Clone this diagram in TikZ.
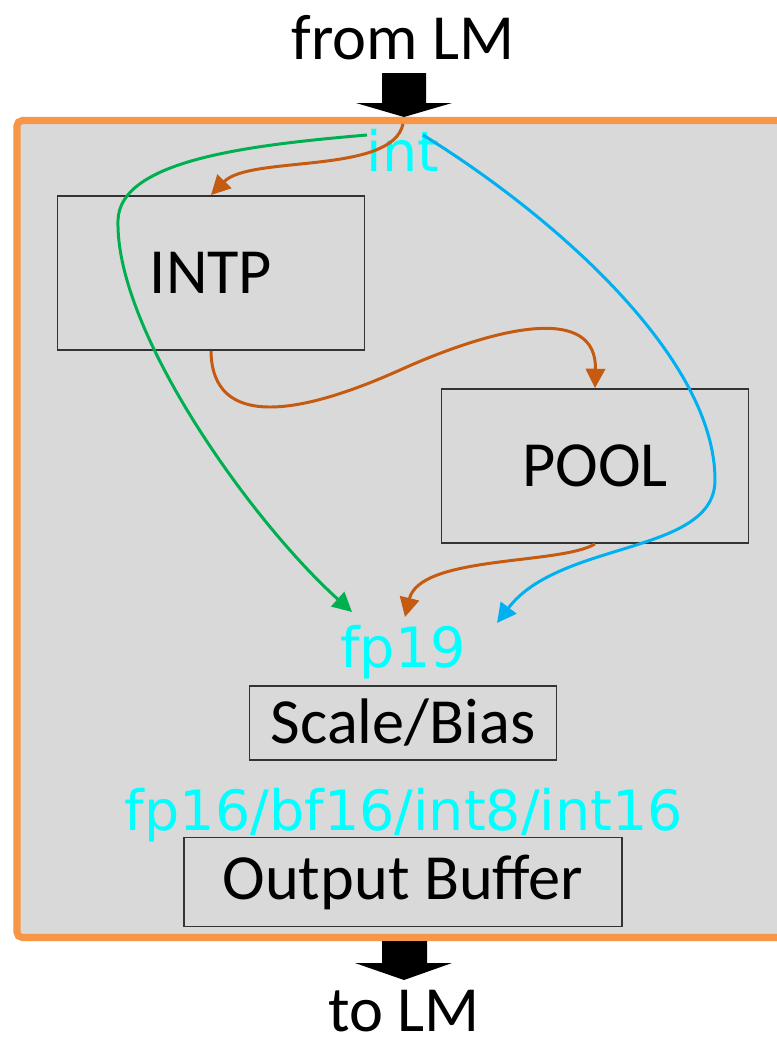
\documentclass[tikz,border=0pt]{standalone}
\usepackage{fontspec}
\setmainfont{Carlito}
\newfontfamily\typefont{DejaVu Sans}
\usetikzlibrary{arrows.meta}
\definecolor{frameOrange}{HTML}{F79646}
\definecolor{panelGray}{HTML}{D9D9D9}
\definecolor{pathOrange}{HTML}{C55A11}
\definecolor{pathGreen}{HTML}{00B050}
\definecolor{pathBlue}{HTML}{00B0F0}
\definecolor{typeCyan}{HTML}{00FFFF}

\begin{document}
\begin{tikzpicture}
[x=0.01cm,y=-0.01cm,
  frameDecorate/.style={draw=frameOrange,line width=2pt,fill=panelGray,rounded corners=1.5pt},
  boxDecorate/.style={draw=black!80,line width=0.5pt,inner sep=0pt},
  textDecorate/.style={font=\fontsize{18.3}{22}\selectfont},
  typeDecorate/.style={text=typeCyan,font=\typefont\fontsize{15.8}{19}\selectfont},
  flowDecorate/.style={line width=0.85pt,-{Triangle[length=5.5pt,width=5.5pt]}},
  bigArrowDecorate/.style={fill=black}]
\useasboundingbox (0,0) rectangle (777,1042);
%% frame
\draw[frameDecorate] (17,120.5) rectangle (800,937.5);
%% block arrows in and out
\fill[bigArrowDecorate] (382,73) -- (426,73) -- (426,103) -- (452,103) -- (404,117)
  -- (356,103) -- (382,103) -- cycle;
\fill[bigArrowDecorate] (382,941) -- (427,941) -- (427,963) -- (452,963) -- (404,980)
  -- (355,963) -- (382,963) -- cycle;
\node (fromLM) at (403,38) [textDecorate] {from LM};
\node (toLM) at (404,1011) [textDecorate,inner sep=0pt] {to LM};
%% units
\foreach \nodename/\x/\y/\w/\h/\txt in {
  intp/211/273/3.07cm/1.54cm/INTP,
  pool/595/466/3.07cm/1.54cm/POOL,
  scale/403/723/3.07cm/0.74cm/{Scale/Bias},
  outbuf/403/882/4.37cm/0.89cm/{Output Buffer}}
{
  \node (\nodename) at (\x,\y) [boxDecorate,textDecorate,minimum width=\w,minimum height=\h] {\txt};
}
%% data types
\node (intLabel) at (403,171) [typeDecorate,anchor=base] {int};
\node (fp19) at (403,667) [typeDecorate,anchor=base] {fp19};
\node (fpAll) at (404,830) [typeDecorate,anchor=base] {fp16/bf16/int8/int16};
%% ends of the flows
\coordinate (intIn) at (403,124);
\coordinate (greenStart) at (367,135);
\coordinate (blueStart) at (423,135);
\coordinate (greenEnd) at (352,612);
\coordinate (orangeEnd) at (405,617);
\coordinate (blueEnd) at (497,623);
%% flows
\draw[flowDecorate,pathOrange] (intIn) .. controls (392,175) and (250,155) .. (intp.north);
\draw[flowDecorate,pathOrange] (intp.south) .. controls (212,430) and (300,415) .. (400,370)
  .. controls (500,325) and (597,305) .. (pool.north);
\draw[flowDecorate,pathOrange] (pool.south) .. controls (560,565) and (420,555) .. (orangeEnd);
\draw[flowDecorate,pathGreen] (greenStart) .. controls (250,145) and (120,160) .. (118,220)
  .. controls (115,330) and (250,520) .. (greenEnd);
\draw[flowDecorate,pathBlue] (blueStart) .. controls (560,220) and (715,360) .. (715,480)
  .. controls (715,555) and (560,540) .. (blueEnd);
\end{tikzpicture}
\end{document}
